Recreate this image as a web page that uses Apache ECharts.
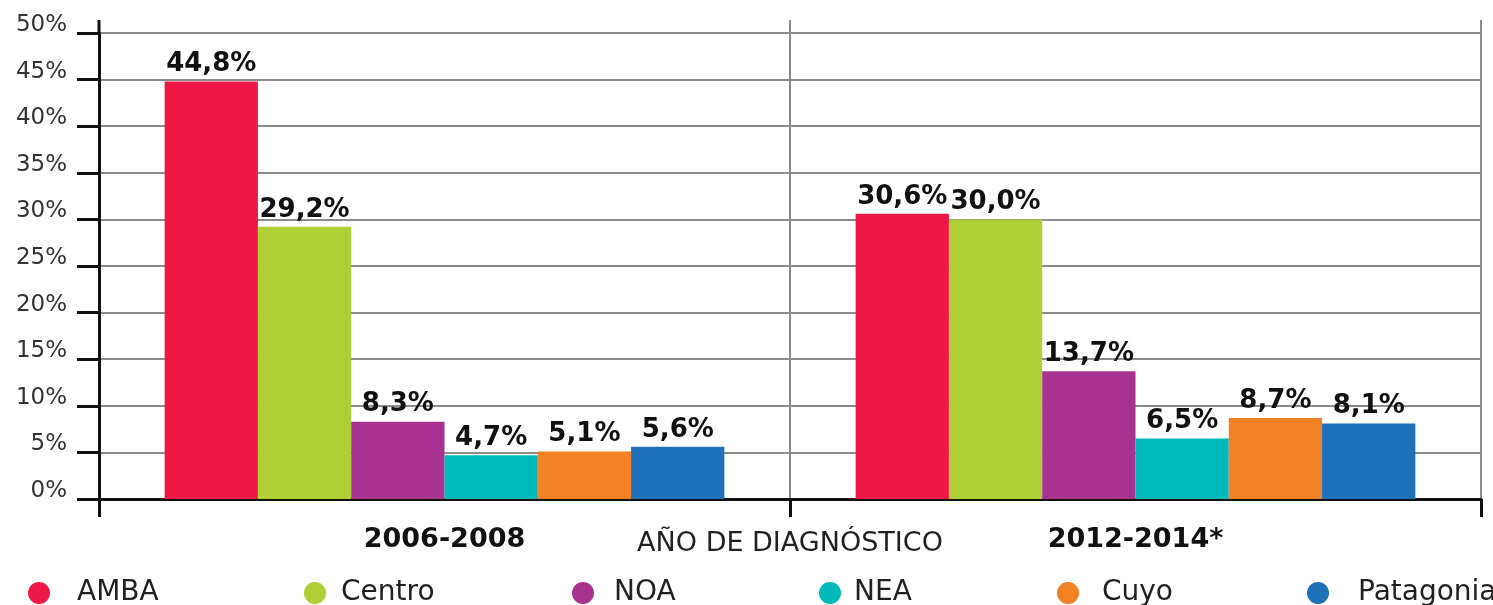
<!DOCTYPE html>
<html>
<head>
<meta charset="utf-8">
<script src="https://cdn.jsdelivr.net/npm/echarts@6/dist/echarts.min.js"></script>
<style>
  html, body { margin: 0; padding: 0; background: #fff; }
  #chart { width: 1493px; height: 605px; }
</style>
</head>
<body>
<div id="chart"></div>
<script>
// periodos (eje x)
const periods = ['2006-2008', '2012-2014*'];
// regiones
const regions = ['AMBA', 'Centro', 'NOA', 'NEA', 'Cuyo', 'Patagonia'];
const regionColors = ['#ED1846', '#B0CF36', '#A8328F', '#00B9BA', '#F18122', '#1F71B8'];
// porcentaje por región, un valor por periodo
const amba = [44.8, 30.6];
const centro = [29.2, 30.0];
const noa = [8.3, 13.7];
const nea = [4.7, 6.5];
const cuyo = [5.1, 8.7];
const patagonia = [5.6, 8.1];
const seriesValues = [amba, centro, noa, nea, cuyo, patagonia];
// eje y
const yMax = 50;
const yStep = 5;

// posición de cada item de leyenda
const legendLeft = [23, 299, 567, 814, 1052, 1302];
const legendTextGap = [22, 10, 15, 8, 18, 24];

const font = 'DejaVu Sans';
const gridLeft = 99;
const gridRight = 12;
const gridTop = 33;
const gridBottom = 106;

const chart = echarts.init(document.getElementById('chart'));

const option = {
  animation: false,
  backgroundColor: '#fff',
  grid: {
    left: gridLeft,
    right: gridRight,
    top: gridTop,
    bottom: gridBottom,
    outerBoundsMode: 'none'
  },
  legend: regions.map((r, i) => ({
    data: [r],
    left: legendLeft[i],
    top: 574,
    icon: 'circle',
    itemWidth: 22,
    itemHeight: 22,
    selectedMode: false,
    textStyle: {
      fontFamily: font,
      fontSize: 28,
      color: '#231F20',
      padding: [0, 0, 0, legendTextGap[i]]
    }
  })),
  xAxis: {
    type: 'category',
    data: periods,
    name: 'AÑO DE DIAGNÓSTICO',
    nameLocation: 'middle',
    nameGap: 31,
    nameMoveOverlap: false,
    nameTextStyle: {
      fontFamily: font,
      fontSize: 27,
      color: '#231F20',
      verticalAlign: 'top'
    },
    axisLine: { show: true, lineStyle: { color: '#111', width: 3 } },
    axisTick: { show: true, length: 18, lineStyle: { color: '#111', width: 3 } },
    axisLabel: {
      margin: 27,
      fontFamily: font,
      fontSize: 27,
      fontWeight: 'bold',
      color: '#111'
    },
    splitLine: { show: true, lineStyle: { color: '#8c8c8c', width: 2 } }
  },
  yAxis: {
    type: 'value',
    min: 0,
    max: yMax,
    interval: yStep,
    axisLine: { show: true, lineStyle: { color: '#111', width: 3 } },
    axisTick: { show: true, length: 22, lineStyle: { color: '#111', width: 3 } },
    axisLabel: {
      margin: 32,
      fontFamily: font,
      fontSize: 23,
      color: '#333',
      verticalAlign: 'bottom',
      lineHeight: 16,
      formatter: '{value}%'
    },
    splitLine: { show: true, lineStyle: { color: '#8c8c8c', width: 2 } }
  },
  series: regions.map((r, i) => ({
    name: r,
    type: 'bar',
    data: seriesValues[i],
    barGap: 0,
    barCategoryGap: '19%',
    itemStyle: { color: regionColors[i] },
    label: {
      show: true,
      position: 'top',
      distance: 4,
      fontFamily: font,
      fontSize: 26,
      fontWeight: 'bold',
      color: '#111',
      formatter: p => p.value.toFixed(1).replace('.', ',') + '%'
    }
  }))
};

chart.setOption(option);

// prolongación de los ejes por encima del 50%
const topY = chart.convertToPixel({ yAxisIndex: 0 }, yMax);
const midX = gridLeft + (1493 - gridLeft - gridRight) / 2;
const rightX = 1493 - gridRight;
chart.setOption({
  graphic: [
    { type: 'line', shape: { x1: gridLeft, y1: topY - 13, x2: gridLeft, y2: topY }, style: { stroke: '#111', lineWidth: 3 } },
    { type: 'line', shape: { x1: midX, y1: topY - 13, x2: midX, y2: topY }, style: { stroke: '#8c8c8c', lineWidth: 2 } },
    { type: 'line', shape: { x1: rightX, y1: topY - 13, x2: rightX, y2: topY }, style: { stroke: '#8c8c8c', lineWidth: 2 } }
  ]
});
</script>
</body>
</html>
